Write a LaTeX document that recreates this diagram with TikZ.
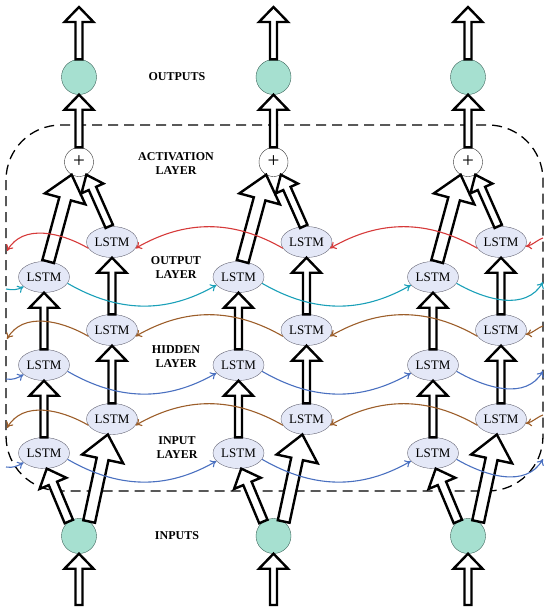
\documentclass[tikz,border=0pt]{standalone}
\usepackage{fontspec}
\setmainfont{Liberation Serif}
\usepackage{tikz}
\usetikzlibrary{arrows.meta,positioning,shapes.geometric,calc}
\definecolor{lstmfill}{RGB}{228,232,247}
\definecolor{lstmdraw}{RGB}{100,100,115}
\definecolor{unitfill}{RGB}{166,224,208}
\definecolor{unitdraw}{RGB}{60,100,90}
\definecolor{fwdteal}{RGB}{26,160,184}
\definecolor{fwdblue}{RGB}{74,112,192}
\definecolor{bwdred}{RGB}{214,58,58}
\definecolor{bwdbrown}{RGB}{156,94,42}
\tikzset{
  lstm/.style={
    ellipse,
    draw=lstmdraw,
    fill=lstmfill,
    minimum width=51pt,
    minimum height=31pt,
    inner sep=0pt,
    font=\fontsize{13}{15}\selectfont
  },
  unit/.style={
    circle,
    draw=unitdraw,
    fill=unitfill,
    minimum size=35pt,
    inner sep=0pt
  },
  sumnode/.style={
    circle,
    draw=black!80,
    fill=white,
    minimum size=29pt,
    inner sep=0pt,
    font=\fontsize{21}{21}\selectfont
  },
  layertext/.style={align=center, font=\bfseries\fontsize{12}{14}\selectfont},
  fatline/.style={draw=black, fill=white, line width=2.4pt, line join=miter},
  link/.style={-{To[length=6pt,width=8pt]}, line width=1.1pt},
  dashframe/.style={dash pattern=on 10pt off 6pt, line width=1.3pt, rounded corners=55pt}
}
% hollow block arrow: start, tip, shaft half width, head half width, head length
\newcommand{\fatarrow}[5]{%
  \coordinate (fa) at ($(#2)!#5!(#1)$);
  \draw[fatline] ($(#1)!#3!90:(#2)$) -- ($(fa)!#3!90:(#2)$)
    -- ($(fa)!#4!90:(#2)$) -- (#2) -- ($(fa)!#4!-90:(#2)$)
    -- ($(fa)!#3!-90:(#2)$) -- ($(#1)!#3!-90:(#2)$) -- cycle;
}

\begin{document}
\begin{tikzpicture}[x=1pt,y=1pt]
\useasboundingbox (0,0) rectangle (550,-611);
\draw[dashframe] (6,-125) rectangle (543,-491);

\node[layertext] (outputs) at (177,-77) {OUTPUTS};
\node[layertext] (actlayer) at (176,-164) {ACTIVATION\\LAYER};
\node[layertext] (outlayer) at (176,-268) {OUTPUT\\LAYER};
\node[layertext] (hidlayer) at (176,-357) {HIDDEN\\LAYER};
\node[layertext] (inlayer) at (177,-448) {INPUT\\LAYER};
\node[layertext] (inputs) at (177,-536) {INPUTS};

\foreach \c/\X in {1/79,2/273.5,3/468}{
  \node[unit] (out\c) at (\X,-77) {};
  \node[sumnode] (plus\c) at (\X,-162) {+};
  \node[lstm] (lo\c) at (\X-35,-277) {LSTM};
  \node[lstm] (ro\c) at (\X+33,-242) {LSTM};
  \node[lstm] (lh\c) at (\X-35,-365) {LSTM};
  \node[lstm] (rh\c) at (\X+33,-330) {LSTM};
  \node[lstm] (li\c) at (\X-35,-453) {LSTM};
  \node[lstm] (ri\c) at (\X+33,-419) {LSTM};
  \node[unit] (in\c) at (\X,-536) {};
  \coordinate (top\c) at (\X,-7);
  \coordinate (bot\c) at (\X,-605);
}

\foreach \c in {1,2,3}{
  \fatarrow{out\c.north}{top\c}{3.5pt}{14.5pt}{15pt}
  \fatarrow{plus\c.north}{out\c.south}{3.5pt}{14.5pt}{15pt}
  \fatarrow{lo\c.75}{plus\c.240}{6pt}{21pt}{25pt}
  \fatarrow{ro\c.100}{plus\c.-60}{4pt}{12pt}{15pt}
  \fatarrow{li\c.north}{lh\c.south}{3.5pt}{14.5pt}{15pt}
  \fatarrow{lh\c.north}{lo\c.south}{3.5pt}{14.5pt}{15pt}
  \fatarrow{ri\c.north}{rh\c.south}{3.5pt}{14.5pt}{15pt}
  \fatarrow{rh\c.north}{ro\c.south}{3.5pt}{14.5pt}{15pt}
  \fatarrow{in\c.125}{li\c.-80}{4.5pt}{14.5pt}{16pt}
  \fatarrow{in\c.55}{ri\c.-105}{6pt}{21pt}{25pt}
  \fatarrow{bot\c}{in\c.south}{3.5pt}{14.5pt}{15pt}
}

% recurrent links between columns
\foreach \c/\n in {1/2,2/3}{
  \draw[link,fwdteal] (lo\c.-15) to[out=-30,in=-150] (lo\n.200);
  \draw[link,fwdblue] (lh\c.-15) to[out=-30,in=-150] (lh\n.200);
  \draw[link,fwdblue] (li\c.-15) to[out=-30,in=-150] (li\n.200);
  \draw[link,bwdred] (ro\n.195) to[out=150,in=30] (ro\c.-15);
  \draw[link,bwdbrown] (rh\n.195) to[out=150,in=30] (rh\c.-15);
  \draw[link,bwdbrown] (ri\n.195) to[out=150,in=30] (ri\c.-15);
}

% links at the frame
\coordinate (wlo) at (6,-289);
\coordinate (wlh) at (6,-379);
\coordinate (wli) at (6,-467);
\coordinate (wro) at (7,-251);
\coordinate (wrh) at (7,-339);
\coordinate (wri) at (7,-428);
\coordinate (elo) at (543,-282);
\coordinate (elh) at (543,-371);
\coordinate (eli) at (543,-459);
\coordinate (ero) at (543,-238);
\coordinate (erh) at (543,-326);
\coordinate (eri) at (543,-415);
\draw[link,fwdteal] (wlo) to[out=-10,in=-150] (lo1.205);
\draw[link,fwdblue] (wlh) to[out=-10,in=-150] (lh1.205);
\draw[link,fwdblue] (wli) to[out=-10,in=-150] (li1.205);
\draw[link,bwdred] (ro1.195) to[out=150,in=60] (wro);
\draw[link,bwdbrown] (rh1.195) to[out=150,in=60] (wrh);
\draw[link,bwdbrown] (ri1.195) to[out=150,in=60] (wri);
\draw[link,fwdteal] (lo3.-15) to[out=-30,in=-120] (elo);
\draw[link,fwdblue] (lh3.-15) to[out=-30,in=-120] (elh);
\draw[link,fwdblue] (li3.-15) to[out=-30,in=-120] (eli);
\draw[link,bwdred] (ero) to[out=200,in=10] (ro3.-10);
\draw[link,bwdbrown] (erh) to[out=200,in=10] (rh3.-10);
\draw[link,bwdbrown] (eri) to[out=200,in=10] (ri3.-10);
\end{tikzpicture}
\end{document}
